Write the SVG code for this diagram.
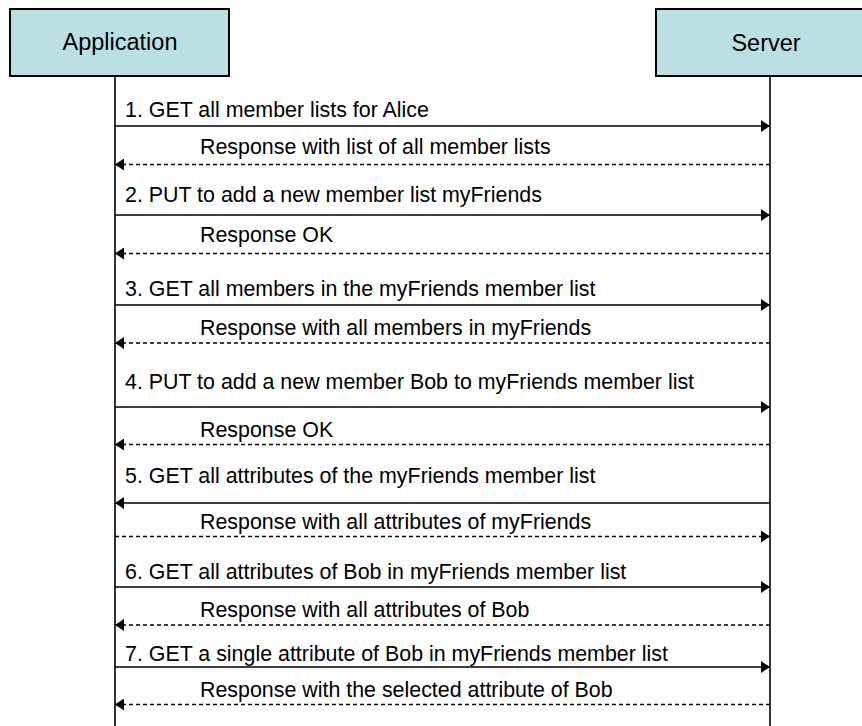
<svg xmlns="http://www.w3.org/2000/svg" width="862" height="726" viewBox="0 0 862 726">
<defs>
<style>
.box{fill:#BBE0E3;stroke:#000;stroke-width:2}
.title{font-family:"Liberation Sans",Arial,sans-serif;font-size:23.5px;fill:#000;text-anchor:middle}
.lbl{font-family:"Liberation Sans",Arial,sans-serif;font-size:21.4px;fill:#000}
.life{stroke:#000;stroke-width:1.6;fill:none}
.msg{stroke:#000;stroke-width:1.3;fill:none}
.rsp{stroke:#000;stroke-width:1.3;fill:none;stroke-dasharray:4 3}
</style>
<marker id="ah" viewBox="0 0 9 12" refX="9" refY="6" markerWidth="9" markerHeight="12" markerUnits="userSpaceOnUse" orient="auto">
<path d="M0,0 L9,6 L0,12 Z" fill="#000"/>
</marker>
</defs>
<rect width="862" height="726" fill="#fff"/>
<g id="application">
<rect class="box" x="10" y="9" width="219" height="67"/>
<text class="title" x="120" y="50">Application</text>
<line class="life" x1="115" y1="76" x2="115" y2="726"/>
</g>
<g id="server">
<rect class="box" x="656" y="9" width="220" height="67"/>
<text class="title" x="766" y="51">Server</text>
<line class="life" x1="770" y1="76" x2="770" y2="726"/>
</g>
<g id="connectors">
<line class="msg" x1="115" y1="126" x2="770" y2="126" marker-end="url(#ah)"/>
<line class="rsp" x1="770" y1="164.5" x2="115" y2="164.5" marker-end="url(#ah)"/>
<line class="msg" x1="115" y1="215" x2="770" y2="215" marker-end="url(#ah)"/>
<line class="rsp" x1="770" y1="253.5" x2="115" y2="253.5" marker-end="url(#ah)"/>
<line class="msg" x1="115" y1="305" x2="770" y2="305" marker-end="url(#ah)"/>
<line class="rsp" x1="770" y1="343" x2="115" y2="343" marker-end="url(#ah)"/>
<line class="msg" x1="115" y1="407" x2="770" y2="407" marker-end="url(#ah)"/>
<line class="rsp" x1="770" y1="444.5" x2="115" y2="444.5" marker-end="url(#ah)"/>
<line class="msg" x1="770" y1="503" x2="115" y2="503" marker-end="url(#ah)"/>
<line class="rsp" x1="115" y1="536.5" x2="770" y2="536.5" marker-end="url(#ah)"/>
<line class="msg" x1="115" y1="587" x2="770" y2="587" marker-end="url(#ah)"/>
<line class="rsp" x1="770" y1="625" x2="115" y2="625" marker-end="url(#ah)"/>
<line class="msg" x1="115" y1="667" x2="770" y2="667" marker-end="url(#ah)"/>
<line class="rsp" x1="770" y1="704.5" x2="115" y2="704.5" marker-end="url(#ah)"/>
</g>
<g id="labels">
<text class="lbl" x="125" y="117">1. GET all member lists for Alice</text>
<text class="lbl" x="200" y="154">Response with list of all member lists</text>
<text class="lbl" x="125" y="202">2. PUT to add a new member list myFriends</text>
<text class="lbl" x="200" y="242">Response OK</text>
<text class="lbl" x="125" y="296">3. GET all members in the myFriends member list</text>
<text class="lbl" x="200" y="335">Response with all members in myFriends</text>
<text class="lbl" x="125" y="389">4. PUT to add a new member Bob to myFriends member list</text>
<text class="lbl" x="200" y="437">Response OK</text>
<text class="lbl" x="125" y="483">5. GET all attributes of the myFriends member list</text>
<text class="lbl" x="200" y="529">Response with all attributes of myFriends</text>
<text class="lbl" x="125" y="579">6. GET all attributes of Bob in myFriends member list</text>
<text class="lbl" x="200" y="617">Response with all attributes of Bob</text>
<text class="lbl" x="125" y="661">7. GET a single attribute of Bob in myFriends member list</text>
<text class="lbl" x="200" y="697">Response with the selected attribute of Bob</text>
</g>
</svg>
